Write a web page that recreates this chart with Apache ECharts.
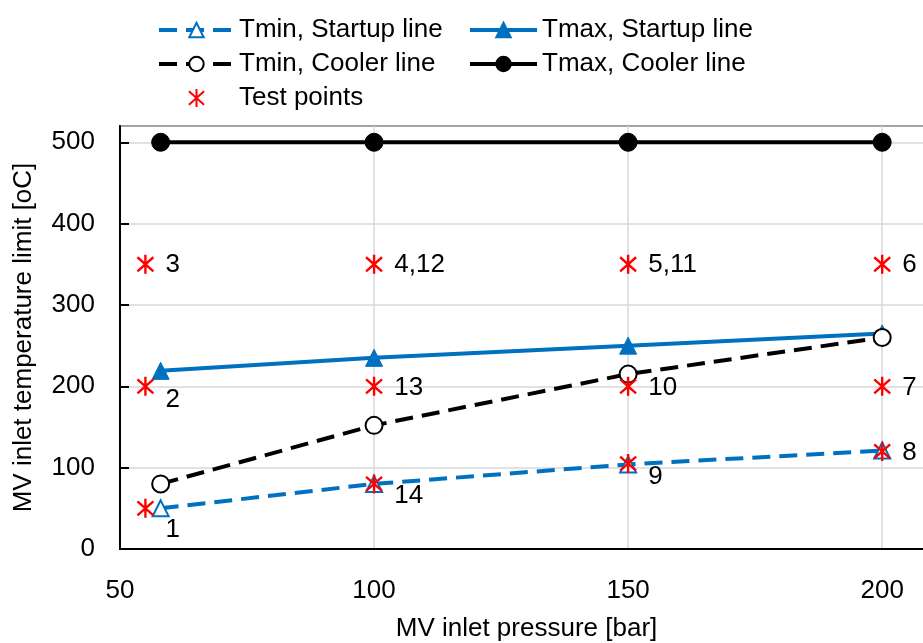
<!DOCTYPE html>
<html>
<head>
<meta charset="utf-8">
<script src="https://cdn.jsdelivr.net/npm/echarts@6/dist/echarts.min.js"></script>
<style>
html,body{margin:0;padding:0;background:#fff;}
#chart{width:923px;height:643px;}
</style>
</head>
<body>
<div id="chart"></div>
<script>
// ---- data ----
const lineX = [58, 100, 150, 200];
const tminStartup = [50, 80, 104, 121];
const tmaxStartup = [219, 235, 250, 265];
const tminCooler = [80, 152, 215, 260];
const tmaxCooler = [500, 500, 500, 500];

const testX = [55, 55, 55, 100, 100, 100, 150, 150, 150, 200, 200, 200];
const testY = [50, 200, 350, 80, 200, 350, 105, 200, 350, 120, 200, 350];
const testLabels = ['1', '2', '3', '14', '13', '4,12', '9', '10', '5,11', '8', '7', '6'];

const xTicks = [50, 100, 150, 200];
const yTicks = [0, 100, 200, 300, 400, 500];

// ---- styling (label vertical offsets, px) ----
const labelDy = [22, 14, 1, 12, 2, 1, 13, 2, 1, 1, 2, 1];

const FONT = "'Liberation Sans', Arial, sans-serif";
const FS = 26;
const BLUE = '#0070C0';
const RED = '#FF0000';
const STAR = 'path://M5,0L5,10M0.8,1.3L9.2,8.7M0.8,8.7L9.2,1.3';

const zip = (xs, ys) => xs.map((x, i) => [x, ys[i]]);

const chart = echarts.init(document.getElementById('chart'), null, {renderer: 'canvas'});
chart.setOption({
  animation: false,
  backgroundColor: '#fff',
  textStyle: {fontFamily: FONT, color: '#000'},
  grid: {
    left: 120, top: 126, width: 813, height: 423,
    outerBoundsMode: 'none', containLabel: false,
    show: true, borderColor: '#000', borderWidth: 2, backgroundColor: 'transparent'
  },
  legend: [
    {
      orient: 'vertical', left: 152, top: 12,
      itemWidth: 75, itemHeight: 18, itemGap: 8,
      lineStyle: {width: 4},
      textStyle: {fontFamily: FONT, fontSize: FS, color: '#000'},
      data: ['Tmin, Startup line', 'Tmin, Cooler line', 'Test points']
    },
    {
      orient: 'vertical', left: 463, top: 12,
      itemWidth: 67, itemHeight: 18, itemGap: 8,
      lineStyle: {width: 4},
      textStyle: {fontFamily: FONT, fontSize: FS, color: '#000'},
      data: ['Tmax, Startup line', 'Tmax, Cooler line']
    }
  ],
  xAxis: {
    type: 'value', min: xTicks[0], max: 210, interval: 50,
    name: 'MV inlet pressure [bar]', nameLocation: 'middle', nameGap: 67,
    nameTextStyle: {fontFamily: FONT, fontSize: FS, color: '#000'},
    axisLine: {show: true, onZero: false, lineStyle: {color: '#000', width: 2}},
    axisTick: {show: false},
    axisLabel: {fontFamily: FONT, fontSize: FS, color: '#000', margin: 29, showMaxLabel: false},
    splitLine: {show: true, lineStyle: {color: '#D9D9D9', width: 1.5}}
  },
  yAxis: {
    type: 'value', min: yTicks[0], max: 520, interval: 100,
    name: 'MV inlet temperature limit [oC]', nameLocation: 'middle', nameGap: 83,
    nameTextStyle: {fontFamily: FONT, fontSize: FS, color: '#000'},
    axisLine: {show: true, lineStyle: {color: '#000', width: 2}},
    axisTick: {show: true, inside: true, length: 9, lineStyle: {color: '#000', width: 2}},
    axisLabel: {fontFamily: FONT, fontSize: FS, color: '#000', margin: 25, showMaxLabel: false},
    splitLine: {show: true, lineStyle: {color: '#D9D9D9', width: 1.5}}
  },
  series: [
    {
      name: 'Tmin, Startup line', type: 'line', data: zip(lineX, tminStartup),
      symbol: 'triangle', symbolSize: 16,
      lineStyle: {color: BLUE, width: 4, type: [18, 9]},
      itemStyle: {color: '#fff', borderColor: BLUE, borderWidth: 2},
      z: 2
    },
    {
      name: 'Tmax, Startup line', type: 'line', data: zip(lineX, tmaxStartup),
      symbol: 'triangle', symbolSize: 17,
      lineStyle: {color: BLUE, width: 4},
      itemStyle: {color: BLUE, borderColor: BLUE, borderWidth: 1},
      z: 3
    },
    {
      name: 'Tmin, Cooler line', type: 'line', data: zip(lineX, tminCooler),
      symbol: 'circle', symbolSize: 17,
      lineStyle: {color: '#000', width: 4, type: [18, 9]},
      itemStyle: {color: '#fff', borderColor: '#000', borderWidth: 2},
      z: 4
    },
    {
      name: 'Tmax, Cooler line', type: 'line', data: zip(lineX, tmaxCooler),
      symbol: 'circle', symbolSize: 18,
      lineStyle: {color: '#000', width: 4},
      itemStyle: {color: '#000', borderColor: '#000', borderWidth: 1},
      z: 5
    },
    {
      name: 'Test points', type: 'scatter',
      symbol: STAR, symbolSize: [19, 19], symbolKeepAspect: true,
      itemStyle: {color: 'transparent', borderColor: RED, borderWidth: 2.4, opacity: 1},
      data: testX.map((x, i) => ({
        value: [x, testY[i]],
        label: {offset: [0, labelDy[i]]}
      })),
      label: {
        show: true, position: 'right', distance: 11,
        formatter: p => testLabels[p.dataIndex],
        fontFamily: FONT, fontSize: FS, color: '#000', opacity: 1
      },
      z: 6
    }
  ]
});
</script>
</body>
</html>
